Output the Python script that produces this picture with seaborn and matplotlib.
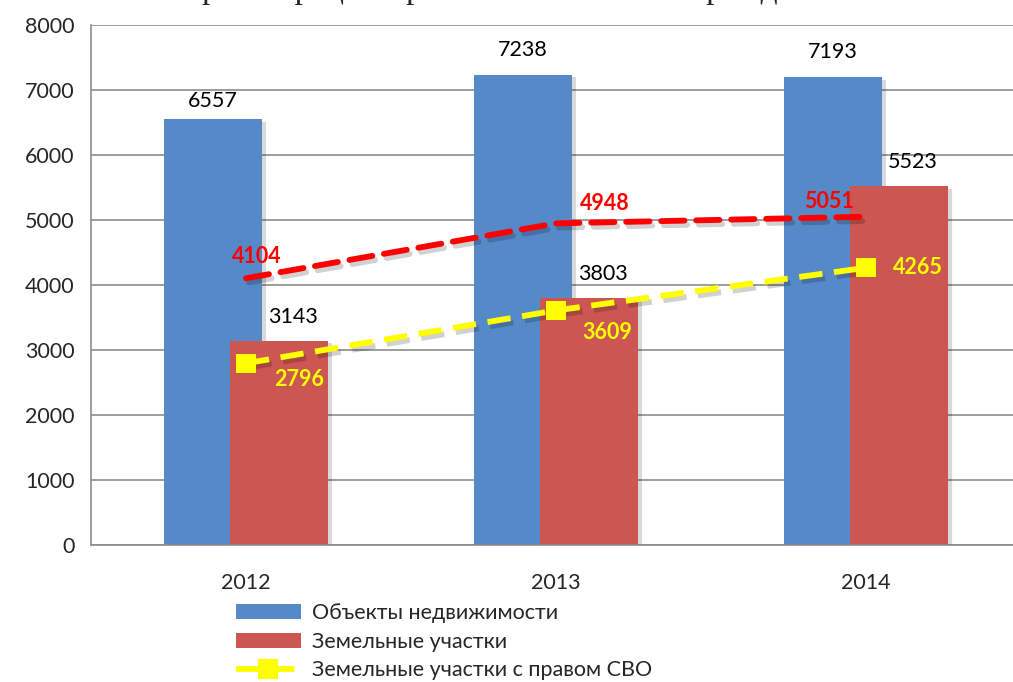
import pandas as pd
import matplotlib
matplotlib.use("Agg")
import matplotlib.pyplot as plt
import matplotlib.patheffects as pe
from matplotlib.patches import Patch
from matplotlib.lines import Line2D
import seaborn as sns

# данные с графика
years = ["2012", "2013", "2014"]
objects = [6557, 7238, 7193]          # Объекты недвижимости
land = [3143, 3803, 5523]             # Земельные участки
land_svo = [2796, 3609, 4265]         # Земельные участки с правом СВО
red_line = [4104, 4948, 5051]         # красная пунктирная линия (без легенды)
y_ticks = [0, 1000, 2000, 3000, 4000, 5000, 6000, 7000, 8000]

BLUE = "#5689C7"
RED = "#CB5652"
YELLOW = "#FFFF00"
LINE_RED = "#FF0000"
GRID = "#8C8C8C"

sns.set_style("white")
plt.rcParams["font.family"] = ["Lato", "DejaVu Sans"]

pos = list(range(len(years)))
shift = 0.107
df = pd.DataFrame({
    "pos_obj": [p - shift for p in pos],
    "pos_land": [p + shift for p in pos],
    "pos": pos,
    "objects": objects,
    "land": land,
    "land_svo": land_svo,
    "red_line": red_line,
})

fig = plt.figure(figsize=(10.13, 6.82), dpi=100)
ax = fig.add_axes([91 / 1013, 137 / 682, 930 / 1013, 520 / 682])

sns.barplot(data=df, x="pos_obj", y="objects", native_scale=True, width=0.316,
            color=BLUE, saturation=1, errorbar=None, ax=ax, zorder=2)
sns.barplot(data=df, x="pos_land", y="land", native_scale=True, width=0.316,
            color=RED, saturation=1, errorbar=None, ax=ax, zorder=2)
for bar in ax.patches:
    bar.set_edgecolor("none")
    bar.set_path_effects([pe.withSimplePatchShadow(offset=(3, -2), shadow_rgbFace="black", alpha=0.15)])

line_shadow = [pe.SimpleLineShadow(offset=(2, -3), alpha=0.18), pe.Normal()]
sns.lineplot(data=df, x="pos", y="red_line", color=LINE_RED, linewidth=4.2,
             linestyle=(0, (4, 2)), dash_capstyle="round", ax=ax, zorder=4,
             path_effects=line_shadow)
sns.lineplot(data=df, x="pos", y="land_svo", color=YELLOW, linewidth=4.2,
             linestyle=(0, (4, 2)), marker="s", markersize=14, markeredgewidth=0,
             ax=ax, zorder=5, path_effects=line_shadow)

ax.set_xlim(-0.5, 2.5)
ax.set_ylim(0, 8000)
ax.set_yticks(y_ticks)
ax.set_xticks(pos)
ax.set_xticklabels(years)
ax.set_xticks([-0.5, 0.5, 1.5], minor=True)
ax.set_xlabel("")
ax.set_ylabel("")
ax.yaxis.grid(True, color=GRID, linewidth=1.2)
ax.set_axisbelow(True)
for side in ["top", "right"]:
    ax.spines[side].set_visible(False)
for side in ["left", "bottom"]:
    ax.spines[side].set_color(GRID)
    ax.spines[side].set_linewidth(1.2)
ax.tick_params(axis="y", direction="out", length=6, width=1.2, color=GRID,
               labelsize=15.5, pad=6)
ax.tick_params(axis="x", which="major", length=0, labelsize=15.5, pad=20)
ax.tick_params(axis="x", which="minor", direction="out", length=6, width=1.2, color=GRID)

# подписи столбцов
obj_offsets = [(0, 13), (0, 18), (0, 18)]
for p, v, off in zip(pos, objects, obj_offsets):
    ax.annotate(str(v), (p - shift, v), xytext=off, textcoords="offset points",
                ha="center", va="center", fontsize=15.5, color="black")
for p, v in zip(pos, land):
    ax.annotate(str(v), (p + shift, v), xytext=(10, 17), textcoords="offset points",
                ha="center", va="center", fontsize=15.5, color="black")

red_offsets = [(8, 16), (35, 14), (-27, 11)]
for p, v, off in zip(pos, red_line, red_offsets):
    ax.annotate(str(v), (p, v), xytext=off, textcoords="offset points",
                ha="center", va="center", fontsize=15.5, fontweight="bold", color=LINE_RED)
yellow_offsets = [(38, -12), (37, -16), (37, 0)]
for p, v, off in zip(pos, land_svo, yellow_offsets):
    ax.annotate(str(v), (p, v), xytext=off, textcoords="offset points",
                ha="center", va="center", fontsize=15.5, fontweight="bold", color=YELLOW)

# заголовок, обрезанный верхним краем (как на исходной картинке)
fig.text(0.5, 1 + 2 / 682, "регистрации права собственности граждан",
         ha="center", va="baseline", fontsize=24, family=["Liberation Serif", "DejaVu Serif"])

handles = [
    Patch(facecolor=BLUE, edgecolor="none"),
    Patch(facecolor=RED, edgecolor="none"),
    Line2D([], [], color=YELLOW, linewidth=4.2, linestyle=(0, (4, 2)),
           marker="s", markersize=14, markeredgewidth=0),
]
labels = ["Объекты недвижимости", "Земельные участки", "Земельные участки с правом СВО"]
fig.legend(handles, labels, loc="upper left", bbox_to_anchor=(236 / 1013, 1 - 603 / 682),
           frameon=False, fontsize=15.5, handlelength=3.0, handleheight=0.7,
           handletextpad=0.55, labelspacing=0.4, borderpad=0, borderaxespad=0)

fig.savefig("out.png", dpi=100)
